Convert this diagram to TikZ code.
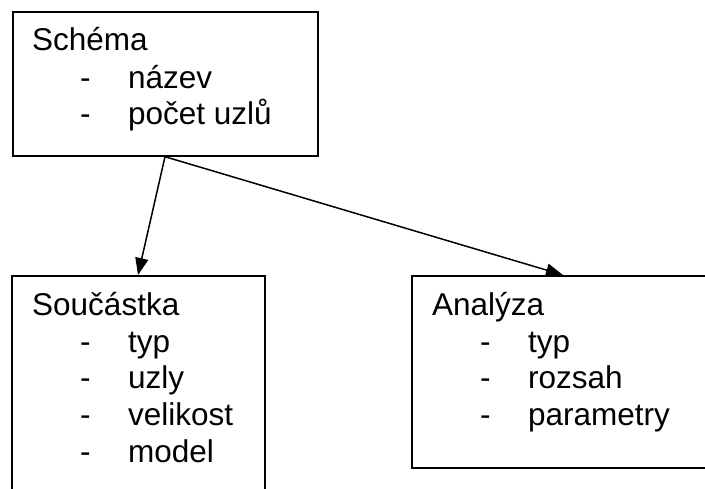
\documentclass[tikz,border=0pt]{standalone}
\usepackage{fontspec}
\setmainfont{Liberation Sans}
\usetikzlibrary{arrows.meta,calc}
\begin{document}
\begin{tikzpicture}[x=1pt,y=1pt,
  box/.style={draw, line width=1.7pt, rectangle, inner sep=0pt, anchor=north west},
  txt/.style={anchor=base west, inner sep=0pt, font=\fontsize{31.5}{36}\selectfont},
  conn/.style={line width=1.5pt, -{Triangle[length=17pt,width=13pt]}}]
\useasboundingbox (0,0) rectangle (705,-488);
% boxes
\node[box, minimum width=305pt, minimum height=144pt] (schema) at (12,-11) {};
\node[box, minimum width=253pt, minimum height=240pt] (sou) at (11,-275) {};
\node[box, minimum width=310pt, minimum height=192pt] (ana) at (411,-275) {};
% Schema texts
\node[txt] (t1) at (32,-50) {Schéma};
\node[txt] (t1a) at (80,-88) {-};
\node[txt] (t1b) at (128,-88) {název};
\node[txt] (t1c) at (80,-124) {-};
\node[txt] (t1d) at (128,-124) {počet uzlů};
% Soucastka texts
\node[txt] (t2) at (32,-315) {Součástka};
\node[txt] (t2a) at (80,-352) {-};
\node[txt] (t2b) at (128,-352) {typ};
\node[txt] (t2c) at (80,-388) {-};
\node[txt] (t2d) at (128,-388) {uzly};
\node[txt] (t2e) at (80,-425) {-};
\node[txt] (t2f) at (128,-425) {velikost};
\node[txt] (t2g) at (80,-462) {-};
\node[txt] (t2h) at (128,-462) {model};
% Analyza texts
\node[txt] (t3) at (432,-315) {Analýza};
\node[txt] (t3a) at (480,-352) {-};
\node[txt] (t3b) at (528,-352) {typ};
\node[txt] (t3c) at (480,-388) {-};
\node[txt] (t3d) at (528,-388) {rozsah};
\node[txt] (t3e) at (480,-425) {-};
\node[txt] (t3f) at (528,-425) {parametry};
% connectors
\coordinate (src) at ($(schema.south west)+(153,0)$);
\coordinate (dst1) at ($(sou.north west)+(127,0)$);
\coordinate (dst2) at ($(ana.north west)+(152,0)$);
\draw[conn] (src) -- (dst1);
\draw[conn] (src) -- (dst2);
\end{tikzpicture}
\end{document}
